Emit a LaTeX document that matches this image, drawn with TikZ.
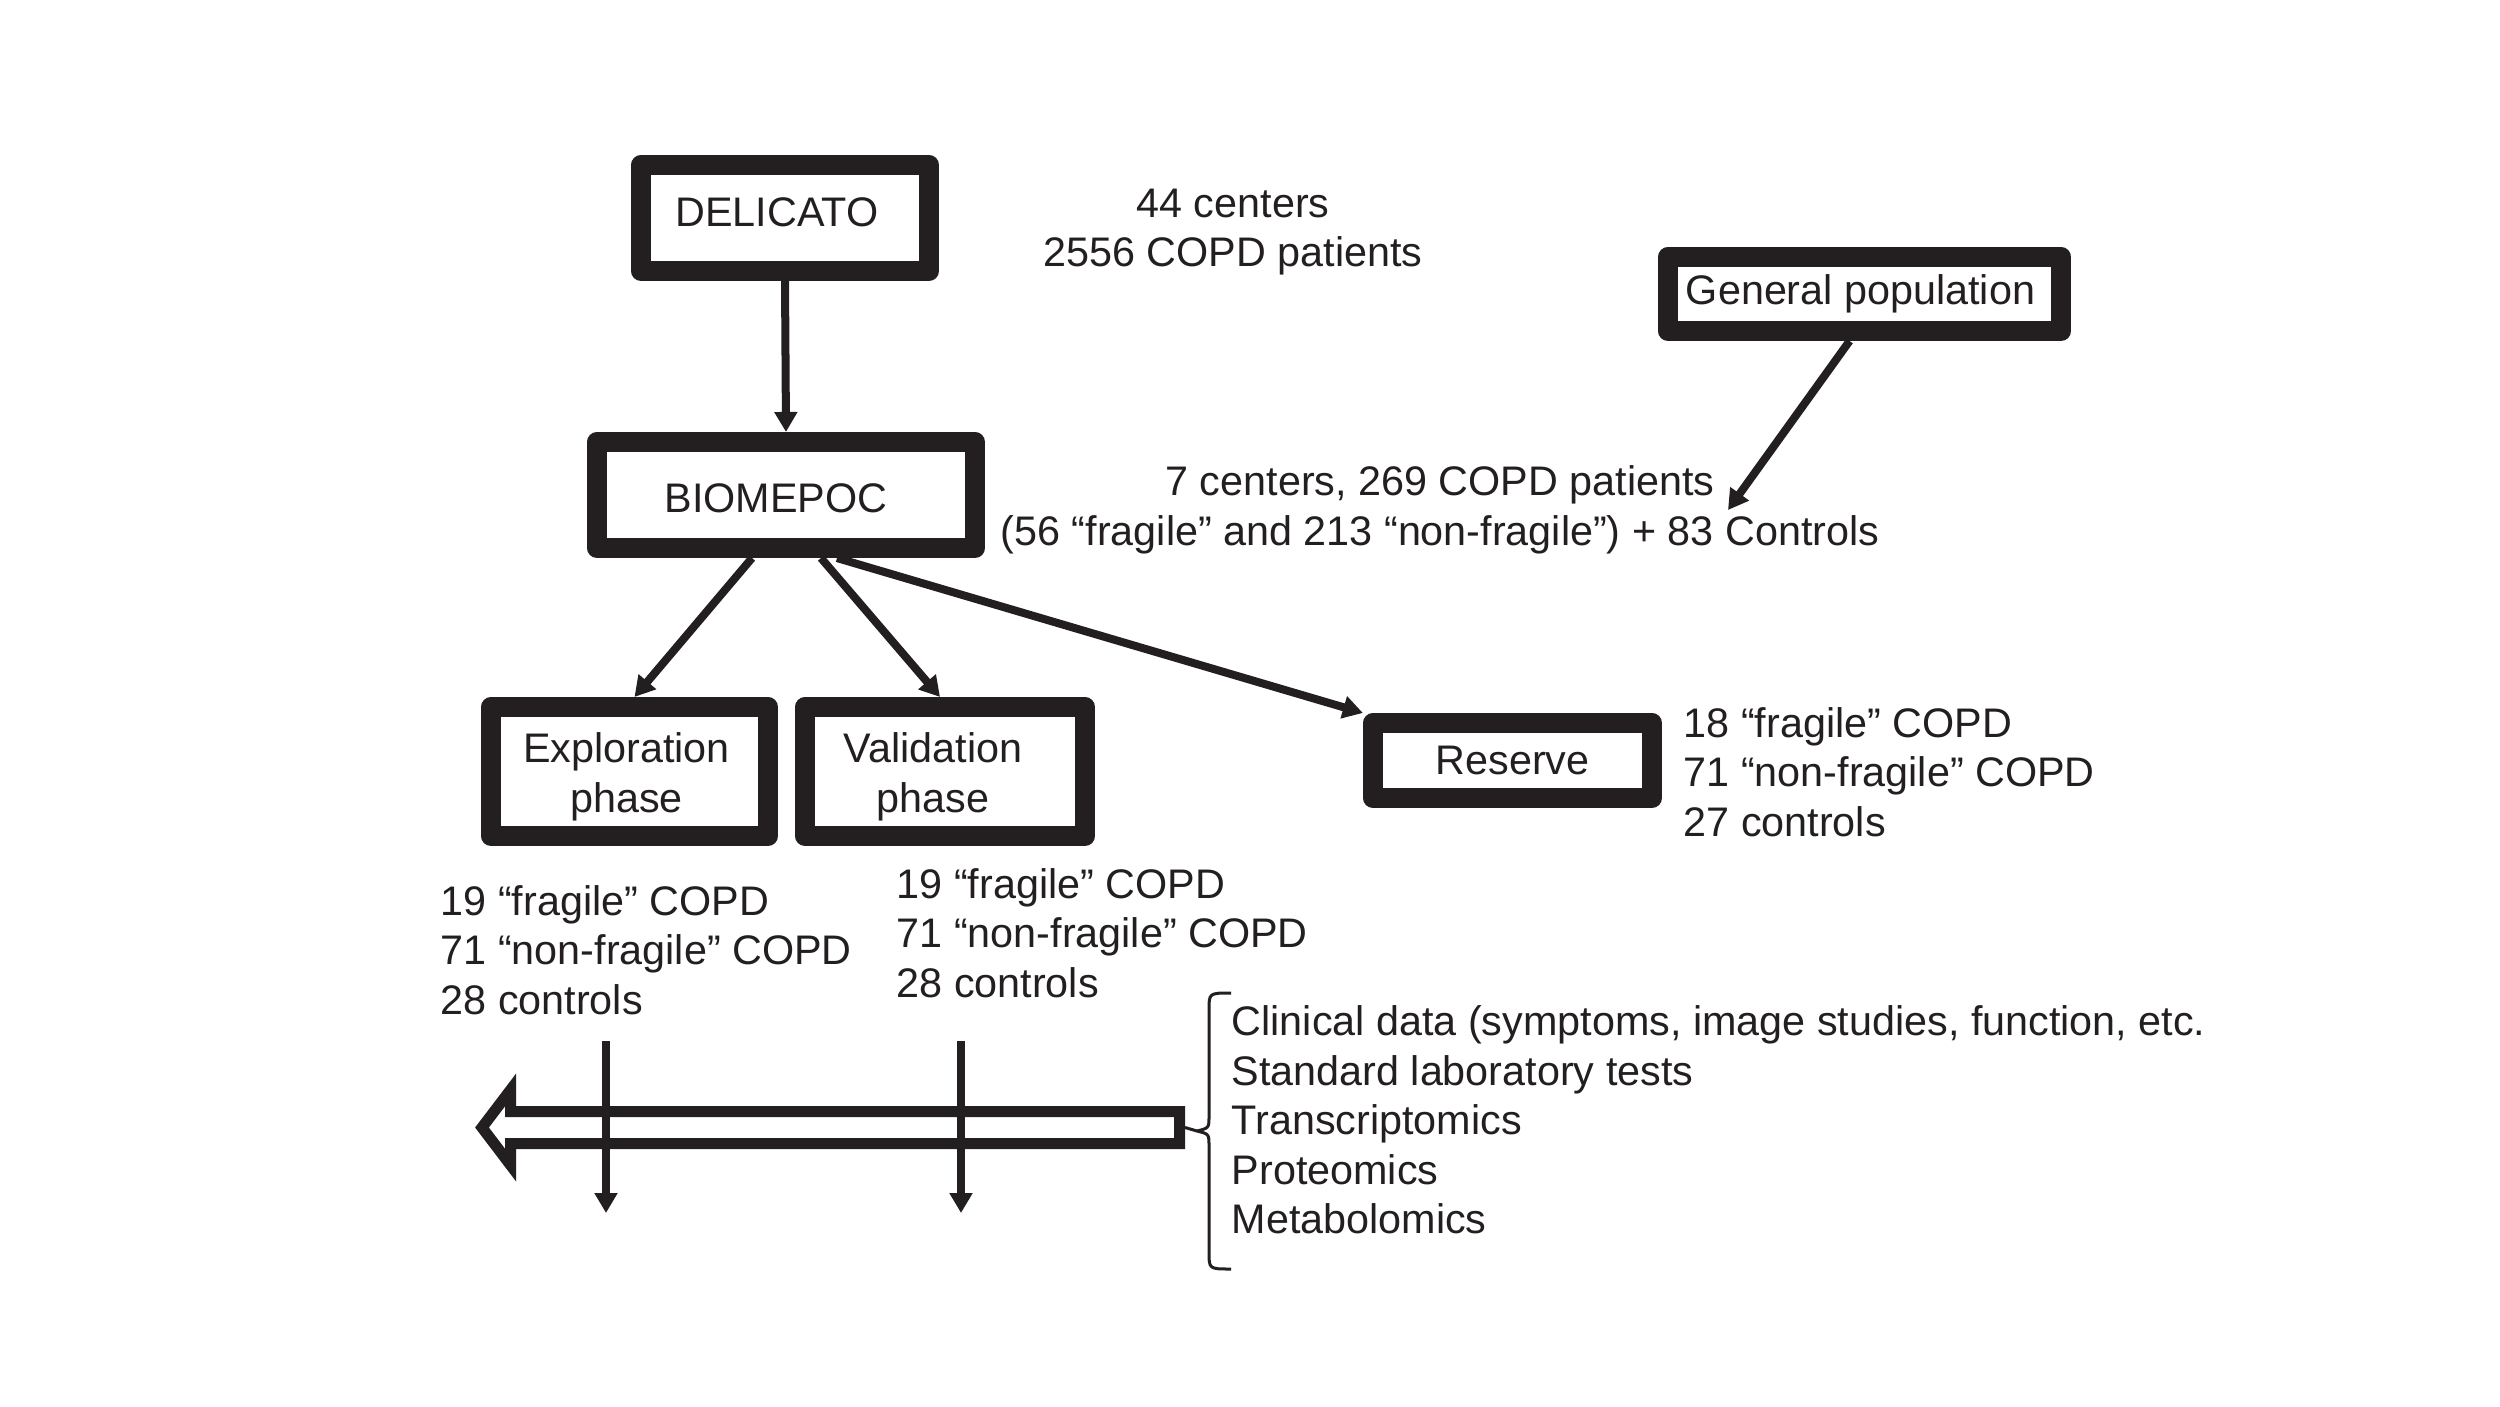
\documentclass[tikz,border=0pt]{standalone}
\usepackage{fontspec}
\setmainfont{Liberation Sans}
\usetikzlibrary{arrows.meta,calc}
\definecolor{ink}{HTML}{231F20}
\newcommand{\txtleftshift}[1]{\hspace*{-#1}}
\begin{document}
\begin{tikzpicture}[x=0.01cm,y=-0.01cm,
  every node/.style={font=\fontsize{11.75pt}{14.1pt}\selectfont, text=ink, inner sep=0pt},
  box/.style={draw=ink, line width=0.2cm, line join=round, fill=white, align=center},
  arr/.style={draw=ink, line width=0.08cm, -{Triangle[length=0.2cm,width=0.22cm]}},
  info/.style={align=left, anchor=west},
  thinline/.style={draw=ink, line width=0.03cm}]
\fill[white] (0,0) rectangle (2500,1406);
\useasboundingbox (0,0) rectangle (2500,1406);

% boxes
\node[box, minimum width=2.88cm, minimum height=1.06cm, text depth=0.11cm] (delicato) at (785,218) {\txtleftshift{0.16cm}DELICATO};
\node[box, minimum width=3.78cm, minimum height=1.06cm] (biomepoc) at (786,495) {\txtleftshift{0.2cm}\rule{0pt}{0.35cm}BIOMEPOC};
\node[box, minimum width=2.77cm, minimum height=1.29cm] (explor) at (629.5,771.5) {\txtleftshift{0.06cm}\rule{0pt}{0.40cm}Exploration\\\txtleftshift{0.06cm}phase};
\node[box, minimum width=2.80cm, minimum height=1.29cm] (valid) at (945,771.5) {\txtleftshift{0.24cm}\rule{0pt}{0.40cm}Validation\\\txtleftshift{0.24cm}phase};
\node[box, minimum width=2.79cm, minimum height=0.75cm] (reserve) at (1512.5,760.5) {Reserve};
\node[box, minimum width=3.93cm, minimum height=0.74cm] (general) at (1864.5,294) {\txtleftshift{0.08cm}General population};

% information texts
\node[align=center] (delinfo) at (1233,232) {44 centers\\2556 COPD patients};
\node[align=center] (bioinfo) at (1440,510) {7 centers, 269 COPD patients\\(56 “fragile” and 213 “non-fragile”) + 83 Controls};
\node[info] (resinfo) at (1683,772) {18 “fragile” COPD\\71 “non-fragile” COPD\\27 controls};
\node[info] (expinfo) at (440,950) {19 “fragile” COPD\\71 “non-fragile” COPD\\28 controls};
\node[info] (valinfo) at (896,933) {19 “fragile” COPD\\71 “non-fragile” COPD\\28 controls};
\node[info] (omics) at (1231,1120) {Clinical data (symptoms, image studies, function, etc.\\Standard laboratory tests\\Transcriptomics\\Proteomics\\Metabolomics};

% connectors
\coordinate (gptip) at (1728,510);
\draw[arr] (delicato.south) -- (biomepoc.north);
\draw[arr] ($(biomepoc.south)+(-34,0)$) -- ($(explor.north)+(5,0)$);
\draw[arr] ($(biomepoc.south)+(35,0)$) -- ($(valid.north)+(-5,0)$);
\draw[arr] ($(biomepoc.south)+(51,0)$) -- (reserve.north west);
\draw[arr] ($(general.south)+(-15,0)$) -- (gptip);

% big hollow arrow
\coordinate (bigend) at (1185,1127.5);
\draw[ink, fill=white, line width=0.11cm, line join=miter]
  (1179.5,1111.5) -- (510.5,1111.5) -- (510.5,1090) -- (482,1127.5) -- (510.5,1165)
  -- (510.5,1143.5) -- (1179.5,1143.5) -- cycle;

% vertical arrows
\coordinate (v1s) at (606,1041); \coordinate (v1e) at (606,1213);
\coordinate (v2s) at (961,1041); \coordinate (v2e) at (961,1213);
\draw[arr] (v1s) -- (v1e);
\draw[arr] (v2s) -- (v2e);

% brace
\coordinate (bracetip) at (1197,1131);
\draw[thinline] (bigend) -- (bracetip);
\draw[thinline, line join=round] (1231,993) .. controls (1209,993) .. (1209,1010) -- (1209,1116)
  .. controls (1209,1128) .. (bracetip) .. controls (1209,1134) .. (1209,1146)
  -- (1209,1252) .. controls (1209,1269) .. (1231,1269);
\end{tikzpicture}
\end{document}
